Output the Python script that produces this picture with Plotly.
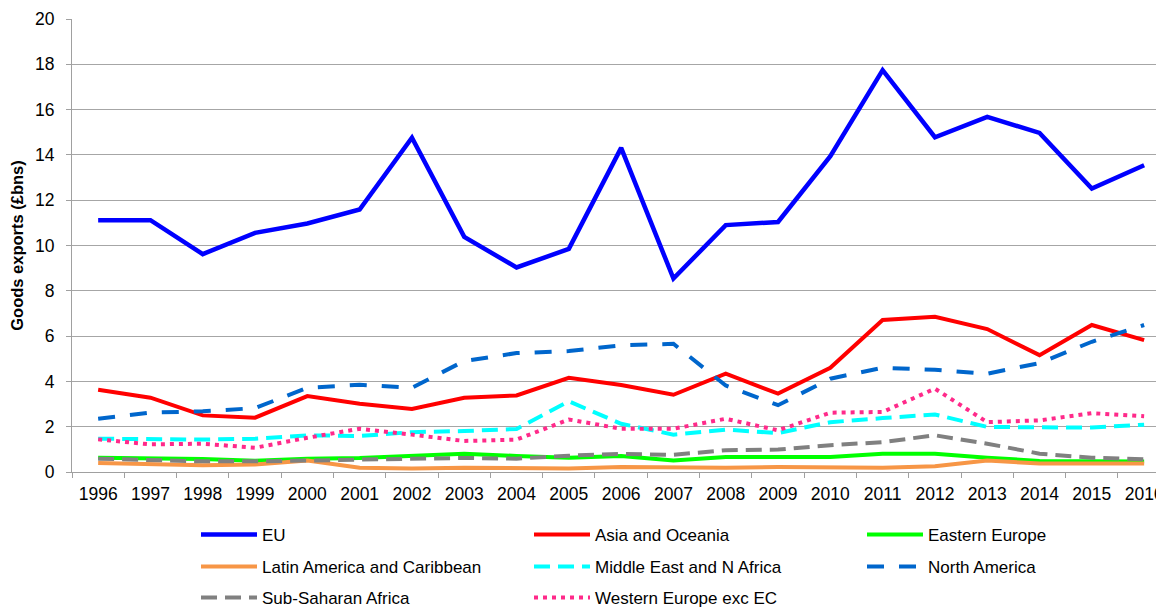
import plotly.graph_objects as go

years = [str(y) for y in range(1996, 2017)]

eu = [11.12, 11.12, 9.62, 10.56, 10.97, 11.59, 14.76, 10.38, 9.03, 9.85, 14.31,
      8.54, 10.90, 11.04, 13.94, 17.74, 14.78, 15.68, 14.97, 12.51, 13.54]
asia = [3.63, 3.28, 2.50, 2.40, 3.35, 3.01, 2.78, 3.28, 3.38, 4.16, 3.84,
        3.41, 4.34, 3.46, 4.60, 6.71, 6.85, 6.31, 5.16, 6.49, 5.82]
eastern_europe = [0.63, 0.62, 0.57, 0.50, 0.59, 0.62, 0.71, 0.81, 0.71, 0.63, 0.71,
                  0.51, 0.66, 0.66, 0.66, 0.81, 0.81, 0.63, 0.49, 0.47, 0.46]
latin_america = [0.40, 0.37, 0.30, 0.33, 0.51, 0.19, 0.15, 0.19, 0.15, 0.15, 0.22,
                 0.19, 0.19, 0.22, 0.22, 0.19, 0.25, 0.51, 0.37, 0.37, 0.37]
middle_east = [1.47, 1.43, 1.43, 1.47, 1.62, 1.59, 1.76, 1.81, 1.90, 3.12, 2.13,
               1.65, 1.87, 1.72, 2.20, 2.38, 2.54, 1.99, 1.99, 1.96, 2.09]
north_america = [2.35, 2.62, 2.68, 2.82, 3.72, 3.85, 3.72, 4.90, 5.25, 5.34, 5.59,
                 5.66, 3.82, 2.95, 4.12, 4.60, 4.51, 4.34, 4.81, 5.75, 6.49]
sub_saharan = [0.59, 0.52, 0.47, 0.47, 0.50, 0.57, 0.59, 0.62, 0.59, 0.72, 0.80,
               0.76, 0.96, 0.99, 1.18, 1.32, 1.62, 1.25, 0.81, 0.63, 0.56]
western_europe = [1.44, 1.22, 1.25, 1.07, 1.51, 1.91, 1.65, 1.37, 1.43, 2.32, 1.91,
                  1.91, 2.35, 1.84, 2.62, 2.65, 3.68, 2.20, 2.28, 2.60, 2.46]

y_ticks = list(range(0, 21, 2))

series = [
    ("EU", eu, "#0000ff", "solid", 4.5, "legend"),
    ("Asia and Oceania", asia, "#ff0000", "solid", 4, "legend"),
    ("Eastern Europe", eastern_europe, "#00ff00", "solid", 4, "legend"),
    ("Latin America and Caribbean", latin_america, "#f79646", "solid", 4, "legend2"),
    ("Middle East and N Africa", middle_east, "#00ffff", "16px,8px", 4, "legend2"),
    ("North America", north_america, "#0066cc", "17px,15px", 4, "legend2"),
    ("Sub-Saharan Africa", sub_saharan, "#808080", "16px,8px", 4, "legend3"),
    ("Western Europe exc EC", western_europe, "#ff2a8a", "4px,5px", 4, "legend3"),
]

fig = go.Figure()
for name, vals, color, dash, w, leg in series:
    fig.add_trace(go.Scatter(
        x=years, y=vals, name=name, mode="lines",
        line=dict(color=color, width=w, dash=dash),
        legend=leg,
    ))

# page has an 8px body margin: figure spans page x 8..1164, y 8..607
W, H = 1156, 599
ml, mr, mt, mb = 64, 0, 11, 135
pw = W - ml - mr
ph = H - mt - mb

def px_x(x):
    return (x - ml) / pw

def px_y(y):
    return (H - mb - y) / ph

legend_common = dict(
    orientation="h", entrywidth=262, entrywidthmode="pixels",
    font=dict(family="Liberation Sans, Arial, sans-serif", size=17, color="#000000"),
    itemwidth=56, bgcolor="rgba(0,0,0,0)", xanchor="left", yanchor="middle",
    tracegroupgap=0,
)

fig.update_layout(
    width=W, height=H,
    margin=dict(l=ml, r=mr, t=mt, b=mb, autoexpand=False),
    paper_bgcolor="white", plot_bgcolor="white",
    font=dict(family="Liberation Sans, Arial, sans-serif", size=17.5, color="#000000"),
    showlegend=True,
    legend=dict(x=px_x(188), y=px_y(527), **legend_common),
    legend2=dict(x=px_x(188), y=px_y(559), **legend_common),
    legend3=dict(x=px_x(188), y=px_y(590), **legend_common),
    xaxis=dict(
        type="category", range=[-0.5, 20.38],
        showgrid=False, showline=True, linecolor="#a0a0a0", linewidth=1,
        ticks="outside", tickson="boundaries", ticklen=5, tickcolor="#a0a0a0",
        tickfont=dict(size=17.5, color="#000000"), ticklabelstandoff=6,
        zeroline=False,
    ),
    yaxis=dict(
        range=[0, 20], tickvals=y_ticks,
        showgrid=True, gridcolor="#a6a6a6", gridwidth=1,
        showline=True, linecolor="#a0a0a0", linewidth=1,
        ticks="outside", ticklen=5, tickcolor="#a0a0a0",
        tickfont=dict(size=17.5, color="#000000"), ticklabelstandoff=8,
        zeroline=False,
        title=dict(text="<b>Goods exports (£bns)</b>", font=dict(size=16.5, color="#000000"),
                   standoff=12),
    ),
)

fig.write_html("out.html")
